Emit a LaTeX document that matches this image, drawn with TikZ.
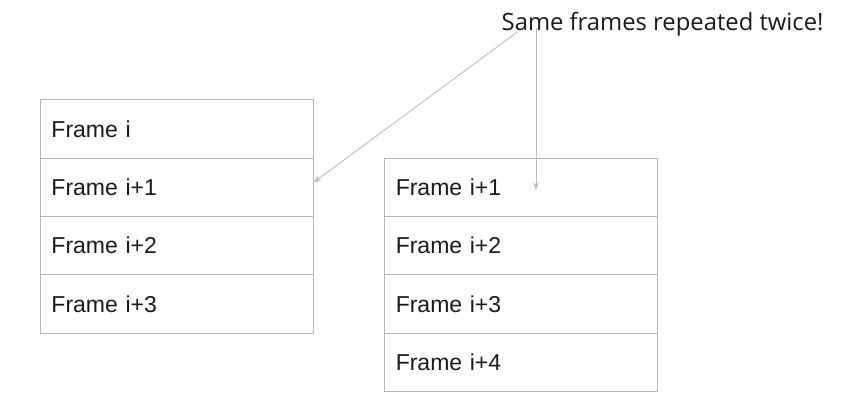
\documentclass[tikz,border=0pt]{standalone}
\usepackage{fontspec}
\setmainfont{Liberation Sans}
\newfontfamily\notefont{Open Sans}
\usetikzlibrary{arrows.meta,calc}
\definecolor{boxline}{HTML}{B7B7B7}
\definecolor{arrowline}{HTML}{BDBDBD}
\definecolor{txt}{HTML}{1A1A1A}
\tikzset{
  rowbox/.style={draw=boxline, line width=0.9pt, rectangle, minimum height=58.3pt,
    text width=251pt, inner xsep=11pt, inner ysep=0pt, align=left,
    font=\fontsize{23}{26}\selectfont, text=txt, anchor=north west},
  note/.style={font=\notefont\fontsize{23.8}{28}\selectfont, text=txt, inner sep=0pt, anchor=base west},
  pointer/.style={draw=arrowline, line width=0.9pt, -{Stealth[length=7pt,width=6pt]}}
}
\begin{document}
\begin{tikzpicture}[x=1pt,y=-1pt]
\useasboundingbox (0,0) rectangle (853,407);
% left stack
\node[rowbox] (L0) at (40,99.3) {Frame i};
\node[rowbox] (L1) at (40,157.6) {Frame i+1};
\node[rowbox] (L2) at (40,215.9) {Frame i+2};
\node[rowbox] (L3) at (40,274.2) {Frame i+3};
% right stack
\node[rowbox] (R1) at (384.3,157.6) {Frame i+1};
\node[rowbox] (R2) at (384.3,215.9) {Frame i+2};
\node[rowbox] (R3) at (384.3,274.2) {Frame i+3};
\node[rowbox] (R4) at (384.3,332.5) {Frame i+4};
% note
\node[note] (T) at (501.5,30.7) {Same frames repeated twice!};
\coordinate (s1) at ($(T.base west)+(15.5,1.5)$);
\coordinate (s2) at ($(T.base west)+(34.5,-2.5)$);
\coordinate (e1) at ($(L1.east)+(0,-5)$);
\coordinate (e2) at ($(R1.center)+(-0.5,2.5)$);
\coordinate (e2x) at (s2 |- e2);
\draw[pointer] (s1) -- (e1);
\draw[pointer] (s2) -- (e2x);
\end{tikzpicture}
\end{document}
